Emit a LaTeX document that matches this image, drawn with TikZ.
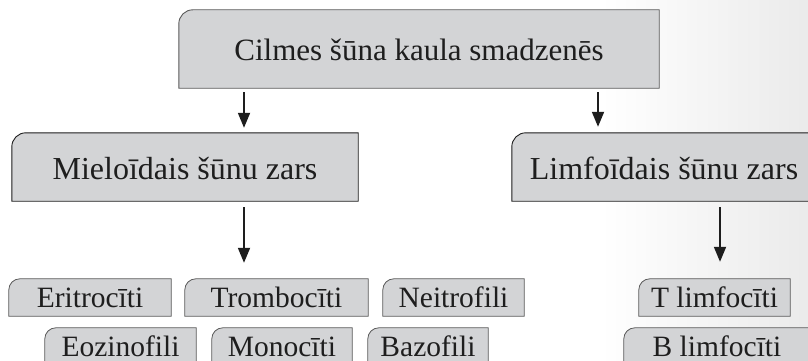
\documentclass[tikz,border=0pt]{standalone}
\usepackage{fontspec}
\setmainfont{Liberation Serif}
\usetikzlibrary{arrows.meta,calc}
\pgfdeclarelayer{back}
\pgfdeclarelayer{bg}
\pgfsetlayers{back,bg,main}
\definecolor{boxgray}{HTML}{D3D4D6}
\definecolor{edgegray}{HTML}{5A5A5A}
\definecolor{inkcol}{HTML}{1E1E1E}
\newcommand\tlbox[3]{%
  \begin{pgfonlayer}{bg}
    \draw[#3] (#1.south west) -- ($(#1.north west)+(0,#2)$)
      .. controls ($(#1.north west)+(0,0.45*#2)$) and ($(#1.north west)+(0.45*#2,0)$)
      .. ($(#1.north west)+(#2,0)$)
      -- (#1.north east) -- (#1.south east) -- cycle;
  \end{pgfonlayer}}
\tikzset{
  bigtext/.style={inner sep=0pt, text=inkcol, font=\fontsize{31}{33}\selectfont,
    text height=24pt, text depth=0pt},
  midtext/.style={inner sep=0pt, text=inkcol, font=\fontsize{32}{34}\selectfont,
    text height=24pt, text depth=0pt},
  smalltext/.style={inner sep=0pt, text=inkcol, font=\fontsize{29.5}{31}\selectfont,
    text height=20pt, text depth=0pt},
  topline/.style={fill=boxgray, draw=edgegray, line width=0.9pt},
  midline/.style={fill=boxgray, draw=inkcol, line width=0.9pt},
  lowline/.style={fill=boxgray, draw=edgegray, line width=0.8pt},
  arr/.style={draw=inkcol, line width=1.8pt, -{Triangle[length=15pt,width=12pt]}}
}
\begin{document}
\begin{tikzpicture}[x=1pt,y=-1pt]
\useasboundingbox (0,0) rectangle (808,361);
\begin{pgfonlayer}{back}
\shade[left color=white, right color=black!8] (600,0) rectangle (808,361);
\end{pgfonlayer}
% nodes
\node[bigtext, minimum width=480pt, minimum height=78pt] (top) at (419,49) {Cilmes šūna kaula smadzenēs};
\node[midtext, minimum width=346pt, minimum height=68pt] (mye) at (185,167) {Mieloīdais šūnu zars};
\node[midtext, minimum width=304pt, minimum height=68pt] (lym) at (664,167) {Limfoīdais šūnu zars};
\node[smalltext, minimum width=162pt, minimum height=37pt] (eri) at (90,297.5) {Eritrocīti};
\node[smalltext, minimum width=183pt, minimum height=37pt] (tro) at (276.5,297.5) {Trombocīti};
\node[smalltext, minimum width=141pt, minimum height=37pt] (neu) at (453.5,297.5) {Neitrofili};
\node[smalltext, minimum width=151pt, minimum height=37pt] (tly) at (714.5,297.5) {T limfocīti};
\node[smalltext, minimum width=151pt, minimum height=36pt] (eoz) at (120.5,346) {Eozinofili};
\node[smalltext, minimum width=140pt, minimum height=36pt] (mon) at (282,346) {Monocīti};
\node[smalltext, minimum width=120pt, minimum height=36pt] (baz) at (428,346) {Bazofili};
\node[smalltext, minimum width=186pt, minimum height=36pt] (bly) at (717,346) {B limfocīti};
% box outlines
\tlbox{top}{14}{topline}
\tlbox{mye}{14}{midline}
\tlbox{lym}{14}{midline}
\tlbox{eri}{11}{lowline}
\tlbox{tro}{11}{lowline}
\tlbox{neu}{11}{lowline}
\tlbox{tly}{11}{lowline}
\tlbox{eoz}{11}{lowline}
\tlbox{mon}{11}{lowline}
\tlbox{baz}{11}{lowline}
\tlbox{bly}{11}{lowline}
% arrows
\coordinate (c1) at (244,0);
\coordinate (c2) at (598,0);
\coordinate (c3) at (720,0);
\draw[arr, shorten <=4pt, shorten >=5pt] (top.south -| c1) -- (mye.north -| c1);
\draw[arr, shorten <=4pt, shorten >=6pt] (top.south -| c2) -- (lym.north -| c2);
\draw[arr, shorten <=6pt, shorten >=16pt] (mye.south -| c1) -- (tro.north -| c1);
\draw[arr, shorten <=6pt, shorten >=17pt] (lym.south -| c3) -- (tly.north -| c3);
\end{tikzpicture}
\end{document}
